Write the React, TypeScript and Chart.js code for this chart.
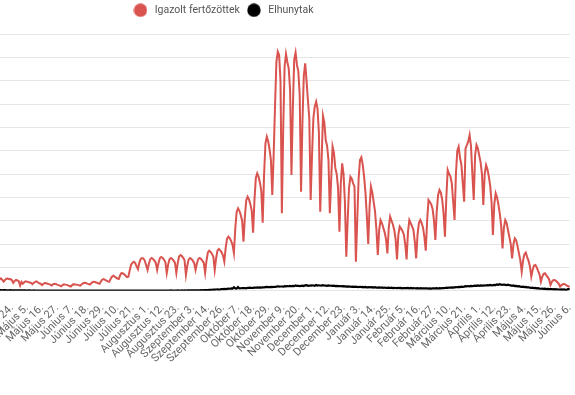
import React, { useEffect, useRef } from 'react';
import { Chart, registerables } from 'chart.js';

Chart.register(...registerables);

// Category axis: one entry per reported day, starting 2020-03-04 (one day missing in the source).
const MONTHS = ['Január', 'Február', 'Március', 'Április', 'Május', 'Június', 'Július', 'Augusztus', 'Szeptember', 'Október', 'November', 'December'];
const FIRST_DAY = '2020-03-04';
const MISSING_DAY = '2020-09-20';
const LABEL_ANCHOR = 51; // index of "Április 24."
const LABEL_STEP = 11;

const SERIES_NAMES = ['Igazolt fertőzöttek', 'Elhunytak'];

// Daily confirmed cases
const CASES = [
  2, 0, 1,
  1, 2, 3, 3, 6, 3, 4,
  3, 7, 9, 14, 12, 18, 20,
  15, 25, 30, 35, 40, 38, 45,
  40, 55, 65, 70, 78, 80, 75,
  60, 95, 110, 120, 130, 125, 115,
  150, 190, 220, 250, 240, 265, 230,
  195, 230, 255, 260, 245, 250, 225,
  170, 210, 230, 220, 205, 110, 190,
  150, 180, 200, 195, 185, 175, 165,
  140, 170, 190, 200, 175, 160, 150,
  120, 150, 165, 160, 150, 140, 130,
  110, 135, 150, 145, 130, 120, 110,
  95, 120, 135, 130, 125, 115, 100,
  90, 120, 140, 135, 130, 125, 115,
  110, 140, 160, 170, 165, 150, 140,
  130, 165, 185, 190, 180, 170, 160,
  150, 200, 240, 250, 230, 215, 200,
  190, 250, 300, 320, 300, 280, 260,
  250, 330, 380, 370, 350, 320, 290,
  300, 440, 560, 600, 620, 590, 520,
  460, 600, 680, 700, 690, 640, 540,
  443, 584, 679, 700, 679, 644, 595,
  443, 596, 700, 722, 700, 664, 614,
  380, 556, 674, 700, 679, 644, 595,
  380, 592, 734, 765, 742, 704, 650,
  336, 536, 671, 700, 679, 644, 595,
  443, 584, 679, 700, 679, 644, 595,
  380, 642, 819, 857, 831, 788, 728,
  443, 690, 857, 893, 866, 822, 759,
  622, 916, 1114, 1157, 1122, 1064, 983,
  808, 1334, 1688, 1765, 1712, 1624, 1500,
  1050, 1581, 1938, 2015, 1955, 1854, 1713,
  1243, 1943, 2414, 2516, 2441, 2315, 2139,
  1457, 2471, 3153, 3300, 3201, 3036, 2805,
  2050, 2900, 3950, 4900, 5122, 5050, 4500,
  1658, 3500, 4800, 5072, 4900, 4758, 4300,
  2480, 3900, 4950, 5100, 4837, 4700, 4200,
  2122, 3600, 4600, 4873, 4500, 4086, 3700,
  1944, 2900, 3700, 3950, 4050, 3900, 3400,
  1693, 2800, 3744, 3600, 3229, 3100, 2800,
  1658, 2400, 3086, 2950, 2630, 2500, 2200,
  1265, 2300, 2730, 2500, 1900,
  729, 1500, 2200, 2443, 2400, 2300, 2229,
  622, 1500, 2400, 2800, 2858, 2700, 2443, 2100, 1600,
  1000, 1800, 2229, 2100, 1900, 1693, 1300,
  765, 1300, 1515, 1450, 1350, 1250, 1100,
  800, 1350, 1586, 1500, 1420, 1300, 1100,
  672, 1200, 1372, 1330, 1280, 1200, 1000,
  672, 1250, 1515, 1450, 1380, 1300, 1050,
  694, 1200, 1450, 1515, 1450, 1350, 1150,
  857, 1500, 1944, 1900, 1850, 1750, 1500,
  1086, 1700, 2050, 2158, 2100, 1950, 1650,
  1157, 2000, 2586, 2500, 2450, 2300, 1900,
  1515, 2500, 3000, 3086, 2843, 2700, 2300,
  1908, 3050, 3120, 3200, 3337, 3100, 2500,
  1944, 2900, 3122, 3050, 2900, 2750, 2500,
  1836, 2500, 2694, 2600, 2450, 2250, 1900,
  1193, 1850, 2087, 2000, 1850, 1650, 1400,
  908, 1350, 1515, 1450, 1300, 1150, 1000,
  694, 1000, 1122, 1080, 950, 800, 650,
  407, 650, 780, 815, 720, 640, 520,
  300, 450, 540, 550, 500, 420, 350,
  193, 300, 360, 372, 330, 290, 240,
  122, 190, 225, 229, 210, 180, 150,
  86, 120, 140, 143, 130, 110, 95,
  86,
];

// Daily deaths
const DEATHS = [
  0, 0, 0,
  0, 0, 0, 0, 0, 0, 1,
  0, 1, 1, 2, 1, 3, 2,
  4, 5, 3, 6, 5, 7, 8,
  10, 9, 11, 12, 10, 13, 14,
  12, 15, 13, 14, 16, 15, 13,
  14, 12, 13, 11, 14, 12, 10,
  12, 11, 9, 10, 8, 11, 9,
  8, 10, 7, 9, 6, 8, 7,
  6, 5, 7, 4, 6, 5, 3,
  4, 5, 3, 4, 2, 3, 4,
  3, 2, 4, 3, 2, 1, 2,
  2, 3, 1, 2, 2, 1, 3,
  1, 2, 0, 1, 2, 1, 0,
  1, 0, 2, 1, 0, 1, 1,
  0, 1, 0, 0, 1, 0, 2,
  1, 0, 0, 1, 0, 1, 0,
  0, 1, 0, 0, 2, 0, 1,
  1, 0, 1, 0, 0, 1, 0,
  0, 1, 0, 2, 1, 0, 1,
  1, 0, 2, 1, 0, 1, 2,
  1, 2, 0, 1, 3, 1, 2,
  1, 2, 3, 1, 2, 4, 2,
  3, 2, 1, 4, 3, 2, 3,
  2, 4, 3, 5, 2, 3, 4,
  3, 5, 4, 3, 6, 4, 5,
  4, 6, 5, 7, 5, 6, 8,
  7, 9, 8, 10, 12, 9, 11,
  12, 15, 13, 18, 16, 20, 24,
  22, 26, 30, 25, 28, 33, 35,
  38, 34, 40, 45, 42, 48, 44,
  75, 50, 46, 78, 48, 52, 56,
  54, 58, 52, 62, 60, 64, 58,
  62, 66, 64, 70, 66, 72, 68,
  72, 70, 76, 80, 76, 78, 82,
  78, 84, 80, 88, 94, 86, 90,
  90, 86, 98, 92, 100, 96, 102,
  96, 104, 98, 112, 102, 106, 100,
  104, 108, 100, 114, 120, 106, 110,
  108, 114, 112, 106, 122, 110, 116,
  112, 108, 118, 112, 108, 104, 112,
  106, 110, 102, 108, 100, 104, 98,
  96, 100, 92, 98, 94, 88, 92,
  86, 90, 84, 88, 82, 86, 80,
  78, 84, 76, 82, 74, 80, 72,
  72, 78, 70, 76, 68, 74, 66,
  66, 72, 64, 70, 62, 68, 62,
  60, 66, 58, 64, 56, 62, 58,
  56, 62, 54, 60, 52, 58, 54,
  54, 60, 52, 58, 50, 56, 52,
  50, 56, 48, 54, 49, 52, 50,
  48, 52, 46, 50, 44, 49, 52,
  50, 54, 48, 56, 52, 58, 54,
  58, 64, 60, 68, 64, 70, 66,
  72, 78, 74, 82, 78, 86, 82,
  88, 96, 92, 100, 94, 104, 98,
  102, 108, 104, 114, 106, 112, 108,
  110, 116, 112, 120, 114, 124, 116,
  120, 126, 122, 134, 126, 140, 130,
  124, 132, 126, 120, 128, 116, 114,
  106, 112, 100, 104, 94, 98, 88,
  82, 86, 76, 80, 70, 74, 66,
  60, 64, 54, 58, 50, 54, 46,
  42, 46, 40, 44, 36, 40, 34,
  32, 36, 30, 34, 28, 31, 26,
  24, 28, 22, 26, 20, 24, 36,
  26,
];

const Y_MAX = 5500;
const Y_STEP = 500;

function buildLabels(n: number): string[] {
  const out: string[] = [];
  const d = new Date(FIRST_DAY + 'T00:00:00Z');
  while (out.length < n) {
    const iso = d.toISOString().slice(0, 10);
    if (iso !== MISSING_DAY) out.push(`${MONTHS[d.getUTCMonth()]} ${d.getUTCDate()}.`);
    d.setUTCDate(d.getUTCDate() + 1);
  }
  return out;
}

function dot(color: string): HTMLCanvasElement {
  const c = document.createElement('canvas');
  c.width = 14;
  c.height = 14;
  const g = c.getContext('2d')!;
  g.fillStyle = color;
  g.beginPath();
  g.arc(7, 7, 6.7, 0, Math.PI * 2);
  g.fill();
  return c;
}

// Adds empty space under the legend (gap between legend and plot area).
const legendGap = {
  id: 'legendGap',
  beforeInit(chart: any) {
    const legend = chart.legend;
    if (!legend) return;
    const origFit = legend.fit;
    legend.fit = function () {
      origFit.call(this);
      this.height += 8.5;
    };
  },
};

export default function App() {
  const ref = useRef<HTMLCanvasElement | null>(null);

  useEffect(() => {
    if (!ref.current) return;
    const labels = buildLabels(CASES.length);
    const red = '#d9534f';
    const black = '#000000';
    const chart = new Chart(ref.current, {
      type: 'line',
      data: {
        labels,
        datasets: [
          {
            label: SERIES_NAMES[0],
            data: CASES,
            borderColor: red,
            backgroundColor: red,
            borderWidth: 2,
            pointRadius: 0,
            pointHoverRadius: 0,
            pointStyle: dot(red),
            tension: 0,
            fill: false,
          },
          {
            label: SERIES_NAMES[1],
            data: DEATHS,
            borderColor: black,
            backgroundColor: black,
            borderWidth: 2.2,
            pointRadius: 0,
            pointHoverRadius: 0,
            pointStyle: dot(black),
            tension: 0,
            fill: false,
          },
        ],
      },
      options: {
        responsive: false,
        animation: false,
        layout: { padding: { left: 0, right: 12, top: 0, bottom: 0 } },
        plugins: {
          legend: {
            position: 'top',
            labels: {
              usePointStyle: true,
              pointStyleWidth: 18,
              padding: 5,
              color: '#555',
              font: { family: 'Roboto', size: 10.5 },
            },
          },
          tooltip: { enabled: false },
        },
        scales: {
          x: {
            grid: { display: false },
            border: { display: false },
            ticks: {
              autoSkip: false,
              minRotation: 45,
              maxRotation: 45,
              color: '#666',
              font: { family: 'Roboto', size: 11 },
              callback: function (this: any, value: any, index: number) {
                return (index - LABEL_ANCHOR) % LABEL_STEP === 0 ? this.getLabelForValue(value) : '';
              },
            },
            afterFit: (scale: any) => {
              scale.height = 395 - 290.7;
            },
          },
          y: {
            min: 0,
            max: Y_MAX,
            grid: { drawTicks: false, color: 'rgba(0,0,0,0.1)' },
            border: { display: false },
            ticks: { display: false, stepSize: Y_STEP },
            afterFit: (scale: any) => {
              scale.width = 67;
            },
          },
        },
      },
      plugins: [legendGap],
    });
    return () => chart.destroy();
  }, []);

  return (
    <div style={{ position: 'fixed', left: 0, top: 0, width: 575, height: 395, overflow: 'hidden', background: '#fff' }}>
      <canvas ref={ref} width={707} height={395} style={{ position: 'absolute', left: -125, top: 0 }} />
    </div>
  );
}
